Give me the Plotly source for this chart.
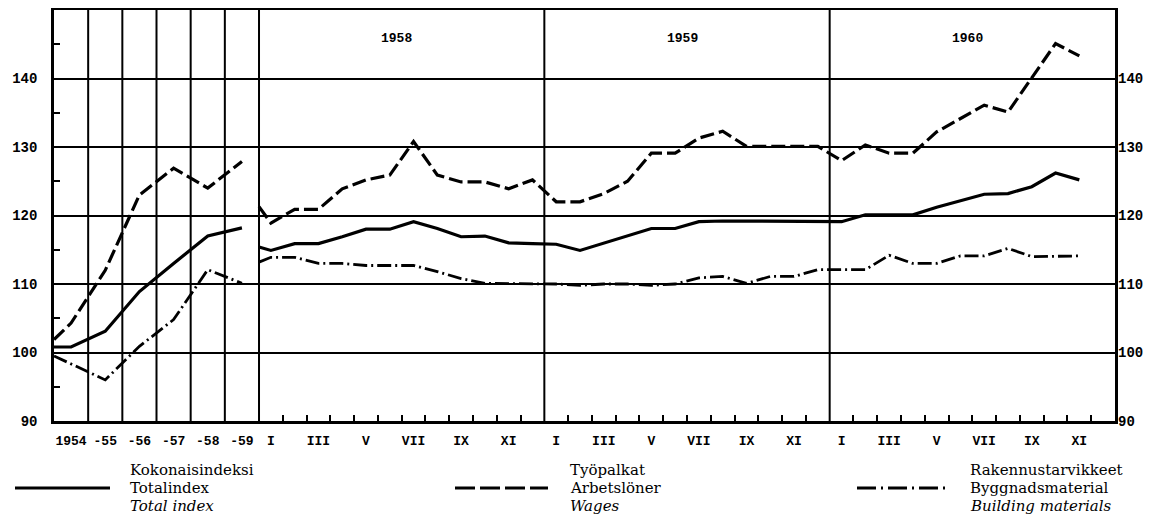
import plotly.graph_objects as go

# ---------------- data ----------------
annual_labels = ["1954", "-55", "-56", "-57", "-58", "-59"]
# first value = base point at the left edge, then one value per annual column
total_annual = [100.8, 100.8, 103.1, 108.9, 113.0, 117.0, 118.2]
wages_annual = [101.9, 104.3, 112.0, 123.0, 126.9, 124.0, 127.9]
build_annual = [99.5, 98.3, 96.0, 100.9, 104.8, 112.1, 110.1]

years = ["1958", "1959", "1960"]
month_labels = ["I", "", "III", "", "V", "", "VII", "", "IX", "", "XI", ""]

# value at the start of Jan 1958, then monthly values Jan 1958 - Nov 1960
total_start = 115.4
total_1958 = [114.9, 115.9, 115.9, 116.9, 118.0, 118.0, 119.1, 118.1, 116.9, 117.0, 116.0, 115.9]
total_1959 = [115.8, 114.9, 116.0, 117.1, 118.1, 118.1, 119.1, 119.2, 119.2, 119.2, 119.2, 119.2]
total_1960 = [119.1, 120.1, 120.1, 120.1, 121.2, 122.1, 123.1, 123.2, 124.2, 126.2, 125.2]

wages_start = 121.3
wages_1958 = [118.9, 120.9, 120.9, 123.9, 125.2, 125.9, 130.8, 125.9, 124.9, 124.9, 123.9, 125.2]
wages_1959 = [122.0, 122.0, 123.2, 125.0, 129.1, 129.1, 131.3, 132.3, 130.1, 130.1, 130.1, 130.1]
wages_1960 = [128.0, 130.3, 129.1, 129.1, 132.2, 134.2, 136.1, 135.1, 140.2, 145.1, 143.3]

build_start = 113.2
build_1958 = [113.9, 113.9, 113.0, 113.0, 112.7, 112.7, 112.7, 111.8, 110.8, 110.1, 110.1, 110.1]
build_1959 = [110.0, 109.8, 110.0, 110.0, 109.8, 110.0, 110.9, 111.1, 110.1, 111.1, 111.1, 112.1]
build_1960 = [112.1, 112.1, 114.2, 113.0, 113.0, 114.1, 114.1, 115.2, 114.0, 114.1, 114.1]

y_ticks = [90, 100, 110, 120, 130, 140]

legend_total = ["Kokonaisindeksi", "Totalindex", "<i>Total index</i>"]
legend_wages = ["Työpalkat", "Arbetslöner", "<i>Wages</i>"]
legend_build = ["Rakennustarvikkeet", "Byggnadsmaterial", "<i>Building materials</i>"]

# ---------------- layout helpers ----------------
W = 1.437  # width of one annual column in month units
n_ann = len(annual_labels)
x0 = -n_ann * W
ann_x = [x0] + [x0 + (i + 0.5) * W for i in range(n_ann)]
n_months = 12 * len(years)
mon_x = [0.0] + [m + 0.5 for m in range(n_months)]

total_m = [total_start] + total_1958 + total_1959 + total_1960
wages_m = [wages_start] + wages_1958 + wages_1959 + wages_1960
build_m = [build_start] + build_1958 + build_1959 + build_1960

SOLID = dict(color="black", width=3.2)
DASH = dict(color="black", width=3.2, dash="14px,5px")
DASHDOT = dict(color="black", width=2.8, dash="14px,4px,2px,4px")

fig = go.Figure()
for xs, ys, ln in [
    (ann_x, total_annual, SOLID), (ann_x, wages_annual, DASH), (ann_x, build_annual, DASHDOT),
    (mon_x[:len(total_m)], total_m, SOLID), (mon_x[:len(wages_m)], wages_m, DASH),
    (mon_x[:len(build_m)], build_m, DASHDOT),
]:
    fig.add_trace(go.Scatter(x=xs, y=ys, mode="lines", line=ln, showlegend=False,
                             hoverinfo="skip"))

# invisible trace for right axis
fig.add_trace(go.Scatter(x=[x0], y=[90], yaxis="y2", mode="markers",
                         marker=dict(opacity=0), showlegend=False, hoverinfo="skip"))

# tick labels
tickvals = [x0 + (i + 0.5) * W for i in range(n_ann)]
ticktext = list(annual_labels)
for yi in range(len(years)):
    for mi, lab in enumerate(month_labels):
        if lab:
            tickvals.append(yi * 12 + mi + 0.5)
            ticktext.append(lab)

minor_vals = [m for m in range(1, n_months) if m % 12 != 0]

shapes = []
# vertical grid lines: annual column boundaries + year boundaries
vlines = [x0 + i * W for i in range(1, n_ann + 1)] + [12 * k for k in range(1, len(years))]
for xv in vlines:
    shapes.append(dict(type="line", xref="x", yref="y", x0=xv, x1=xv, y0=90, y1=150,
                       line=dict(color="black", width=2), layer="below"))

MONO = "Liberation Mono"
SERIF = "DejaVu Serif"

annotations = []
for yi, yr in enumerate(years):
    annotations.append(dict(x=yi * 12 + 6 - 0.2, y=145.8, xref="x", yref="y", text=yr,
                            showarrow=False, font=dict(family=MONO, size=13, color="black",
                                                        weight="bold")))

# the page body has an 8px margin: plot area spans page px 54..1115 x 10..421
def px_x(px):
    return (px - 54) / 1061.0

def px_y(py):
    return (421 - py) / 411.0

ROWS = [470, 488, 506]
legend_items = [
    # sample x0, x1, text x, line style, texts
    (15, 110, 128, SOLID, legend_total),
    (455, 548, 568, dict(color="black", width=3, dash="20px,5px"), legend_wages),
    (857, 950, 968, dict(color="black", width=3, dash="19px,5px,2px,5px"), legend_build),
]
for lx0, lx1, tx, ln, texts in legend_items:
    shapes.append(dict(type="line", xref="paper", yref="paper", x0=px_x(lx0), x1=px_x(lx1),
                       y0=px_y(ROWS[1]), y1=px_y(ROWS[1]), line=ln))
    for ry, t in zip(ROWS, texts):
        annotations.append(dict(x=px_x(tx), y=px_y(ry), xref="paper", yref="paper",
                                text=t, showarrow=False, xanchor="left", yanchor="middle",
                                font=dict(family=SERIF, size=15, color="black")))

fig.update_layout(
    width=1153, height=511,
    margin=dict(l=46, r=46, t=2, b=98, autoexpand=False),
    paper_bgcolor="white", plot_bgcolor="white",
    showlegend=False,
    shapes=shapes, annotations=annotations,
    xaxis=dict(range=[x0, n_months], showgrid=False, zeroline=False,
               showline=True, mirror=True, linecolor="black", linewidth=2.5,
               tickmode="array", tickvals=tickvals, ticktext=ticktext, ticks="",
               ticklabelstandoff=6,
               tickfont=dict(family=MONO, size=13, color="black", weight="bold"),
               minor=dict(tickmode="array", tickvals=minor_vals, ticks="inside",
                          ticklen=6, tickwidth=1.5, tickcolor="black", showgrid=False)),
    yaxis=dict(range=[90, 150], tickmode="array", tickvals=y_ticks,
               showgrid=True, gridcolor="black", gridwidth=1.6, zeroline=False,
               showline=True, mirror=True, linecolor="black", linewidth=2.5,
               ticks="", ticklabelstandoff=11,
               tickfont=dict(family=MONO, size=14, color="black", weight="bold"),
               minor=dict(tickmode="array", tickvals=[95, 105, 115, 125, 135, 145],
                          ticks="inside", ticklen=6, tickwidth=1.5, tickcolor="black",
                          showgrid=False)),
    yaxis2=dict(range=[90, 150], overlaying="y", side="right", tickmode="array",
                tickvals=y_ticks, showgrid=False, zeroline=False, showline=False,
                ticks="", ticklabelstandoff=2,
                tickfont=dict(family=MONO, size=14, color="black", weight="bold")),
)

fig.write_html("out.html")
